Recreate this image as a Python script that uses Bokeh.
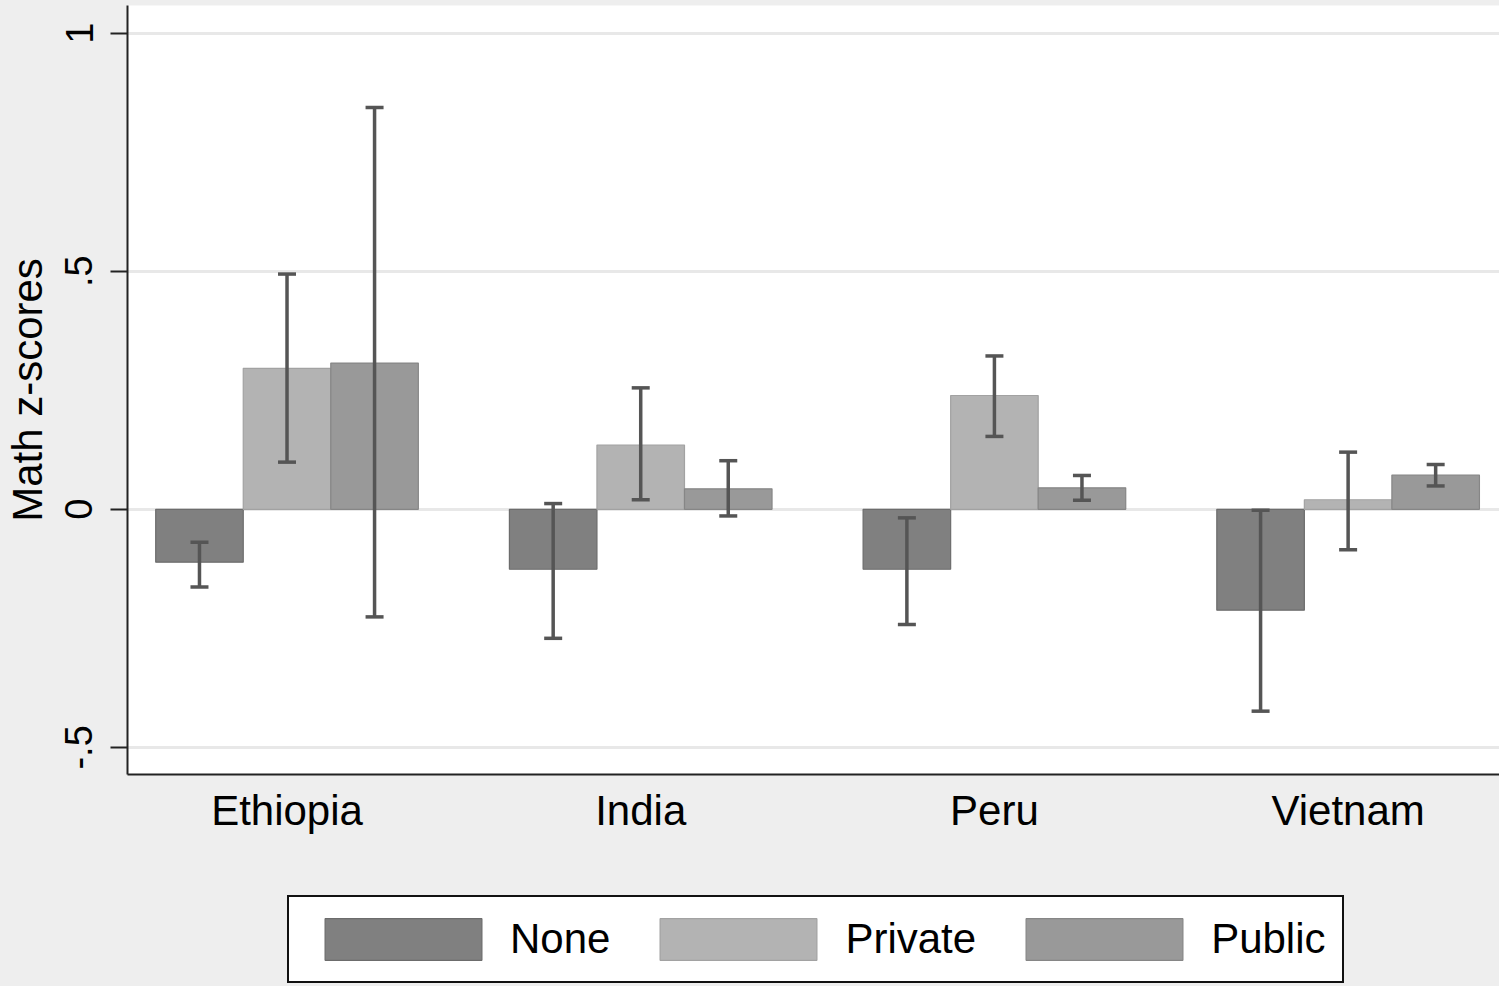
from bokeh.plotting import figure
from bokeh.layouts import column
from bokeh.models import (ColumnDataSource, Range1d, FixedTicker, Whisker, TeeHead,
                          Legend, LegendItem)
from bokeh.transform import dodge
from bokeh.embed import file_html
from bokeh.resources import INLINE

# Mean math z-scores with 95% confidence bounds, by country and tutoring type
countries = ["Ethiopia", "India", "Peru", "Vietnam"]
none_mean = [-0.111, -0.126, -0.126, -0.212]
none_lo = [-0.163, -0.271, -0.242, -0.424]
none_hi = [-0.069, 0.012, -0.018, -0.002]
private_mean = [0.296, 0.135, 0.239, 0.020]
private_lo = [0.099, 0.020, 0.153, -0.085]
private_hi = [0.494, 0.255, 0.322, 0.120]
public_mean = [0.307, 0.043, 0.045, 0.072]
public_lo = [-0.226, -0.014, 0.019, 0.049]
public_hi = [0.844, 0.102, 0.071, 0.094]
y_ticks = [-0.5, 0, 0.5, 1]
y_tick_labels = ["-.5", "0", ".5", "1"]

FONT = "Liberation Sans"
BG = "#eeeeee"
BAR_W = 0.2475
ERR = "#555555"

src = ColumnDataSource(dict(
    idx=list(range(len(countries))),
    none_mean=none_mean, none_lo=none_lo, none_hi=none_hi,
    private_mean=private_mean, private_lo=private_lo, private_hi=private_hi,
    public_mean=public_mean, public_lo=public_lo, public_hi=public_hi,
))

p = figure(width=1499, height=850, output_backend="svg", toolbar_location=None,
           x_range=Range1d(-0.451, 3.428), y_range=Range1d(-0.557, 1.058),
           min_border_left=127, min_border_right=0, min_border_top=5,
           min_border_bottom=76)
p.border_fill_color = BG
p.background_fill_color = "white"
p.outline_line_color = None

series = [
    ("None", "none", -BAR_W, "#808080", "#6c6c6c"),
    ("Private", "private", 0.0, "#b3b3b3", "#a2a2a2"),
    ("Public", "public", BAR_W, "#999999", "#868686"),
]

for label, key, off, fill, edge in series:
    p.vbar(x=dodge("idx", off), top=key + "_mean", bottom=0, width=BAR_W,
           source=src, fill_color=fill, line_color=edge, line_width=1.2)

for label, key, off, fill, edge in series:
    w = Whisker(base=dodge("idx", off), lower=key + "_lo", upper=key + "_hi",
                source=src, line_color=ERR, line_width=3.5, level="annotation",
                upper_head=TeeHead(size=18, line_color=ERR, line_width=3.5),
                lower_head=TeeHead(size=18, line_color=ERR, line_width=3.5))
    p.add_layout(w)

# grid
p.xgrid.grid_line_color = None
p.ygrid.ticker = FixedTicker(ticks=y_ticks)
p.ygrid.grid_line_color = "#e8e8e8"
p.ygrid.grid_line_width = 3

# y axis
p.yaxis.ticker = FixedTicker(ticks=y_ticks)
p.yaxis.major_label_overrides = {t: s for t, s in zip(y_ticks, y_tick_labels)}
p.yaxis.major_label_orientation = "vertical"
p.yaxis.major_label_text_font = FONT
p.yaxis.major_label_text_font_size = "38px"
p.yaxis.major_label_text_color = "black"
p.yaxis.major_label_standoff = 18
p.yaxis.major_tick_out = 17
p.yaxis.major_tick_in = 0
p.yaxis.major_tick_line_width = 2
p.yaxis.major_tick_line_color = "#222222"
p.yaxis.minor_tick_line_color = None
p.yaxis.axis_line_width = 2
p.yaxis.axis_line_color = "#222222"
p.yaxis.axis_label = "Math z-scores"
p.yaxis.axis_label_text_font = FONT
p.yaxis.axis_label_text_font_size = "42px"
p.yaxis.axis_label_text_font_style = "normal"
p.yaxis.axis_label_text_color = "black"
p.yaxis.axis_label_standoff = 12

# x axis with country names
p.xaxis.ticker = FixedTicker(ticks=list(range(len(countries))))
p.xaxis.major_label_overrides = {i: c for i, c in enumerate(countries)}
p.xaxis.major_label_text_font = FONT
p.xaxis.major_label_text_font_size = "42px"
p.xaxis.major_label_text_color = "black"
p.xaxis.major_label_standoff = 12
p.xaxis.major_tick_out = 0
p.xaxis.major_tick_in = 0
p.xaxis.minor_tick_line_color = None
p.xaxis.axis_line_width = 2
p.xaxis.axis_line_color = "#222222"

# legend strip underneath: hidden copies of the bar renderers supply the keys
leg = figure(width=1499, height=136, output_backend="svg", toolbar_location=None,
             x_range=Range1d(0, 1), y_range=Range1d(0, 1),
             x_axis_type=None, y_axis_type=None,
             min_border_left=0, min_border_right=0, min_border_top=0,
             min_border_bottom=0)
leg.border_fill_color = BG
leg.background_fill_color = None
leg.outline_line_color = None
leg.xgrid.visible = False
leg.ygrid.visible = False

items = []
for label, key, off, fill, edge in series:
    r = leg.vbar(x=dodge("idx", off), top=key + "_mean", bottom=0, width=BAR_W,
                 source=src, fill_color=fill, line_color=edge, line_width=1.2,
                 visible=False)
    items.append(LegendItem(label=label, renderers=[r]))

# the strip's frame is aligned with the chart frame above (starts at x=127)
legend = Legend(items=items, orientation="horizontal", location=(160, 3),
                glyph_width=196, glyph_height=52, label_standoff=9, spacing=30,
                padding=16, margin=0,
                label_text_font=FONT, label_text_font_size="42px",
                label_text_color="black",
                border_line_color="#111111", border_line_width=2,
                border_line_alpha=1.0,
                background_fill_color="white", background_fill_alpha=1.0)
leg.add_layout(legend, "center")

layout = column(p, leg, spacing=0)
layout.styles = {"background-color": BG}
open("out.html", "w").write(file_html(layout, INLINE))
